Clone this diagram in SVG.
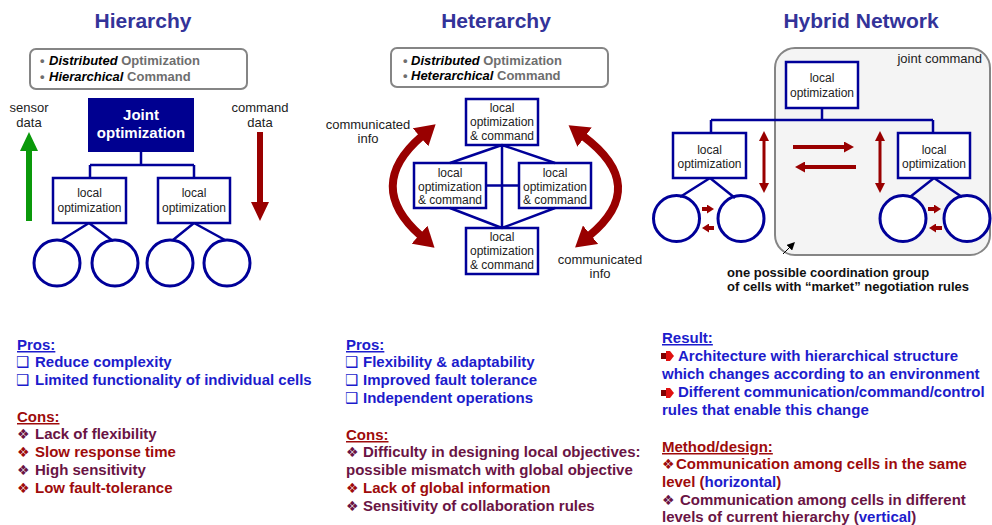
<svg xmlns="http://www.w3.org/2000/svg" width="992" height="525" viewBox="0 0 992 525">
<style>
text{font-family:"Liberation Sans",Arial,sans-serif}
.title{font-size:21px;font-weight:bold;fill:#333399;text-anchor:middle}
.info{font-size:13px;font-weight:bold;fill:#6e6e6e}
.em{fill:#000;font-style:italic}
.ibox{fill:#fff;stroke:#858585;stroke-width:2}
.node{fill:#fff;stroke:#000099;stroke-width:2.5}
.nt{font-size:12px;fill:#222;text-anchor:middle}
.lbl{font-size:13px;fill:#222;text-anchor:middle}
.cell{fill:#fff;stroke:#000099;stroke-width:3}
.conn{fill:none;stroke:#000099;stroke-width:2.5}
.big{fill:none;stroke:#990000;stroke-width:8;marker-start:url(#bh);marker-end:url(#bh)}
.ra{fill:none;stroke:#990000}
.bt{font-size:15px;font-weight:bold}
.blue{fill:#1c1ccc}
.red{fill:#9e0b0b}
.mar{fill:#6a1444}
.u{text-decoration:underline}
.sym{font-family:"DejaVu Sans",sans-serif;font-size:15px;font-weight:bold}
.dia{font-family:"DejaVu Sans",sans-serif;font-size:14px;font-weight:normal}
</style>
<defs>
<marker id="bh" markerUnits="userSpaceOnUse" viewBox="0 0 20 24" markerWidth="20" markerHeight="24" refX="2" refY="12" orient="auto-start-reverse"><path d="M0,0 L20,12 L0,24 z" fill="#990000"/></marker>
<marker id="mh" markerUnits="userSpaceOnUse" viewBox="0 0 10 11" markerWidth="10" markerHeight="11" refX="1" refY="5.5" orient="auto-start-reverse"><path d="M0,0 L10,5.5 L0,11 z" fill="#990000"/></marker>
<marker id="sh" markerUnits="userSpaceOnUse" viewBox="0 0 10 10" markerWidth="10" markerHeight="10" refX="1" refY="5" orient="auto-start-reverse"><path d="M0,0 L10,5 L0,10 z" fill="#990000"/></marker>
<marker id="th" markerUnits="userSpaceOnUse" viewBox="0 0 7 9" markerWidth="7" markerHeight="9" refX="1" refY="4.5" orient="auto"><path d="M0,0 L7,4.5 L0,9 z" fill="#990000"/></marker>
<marker id="kh" markerUnits="userSpaceOnUse" viewBox="0 0 8 8" markerWidth="8" markerHeight="8" refX="1" refY="4" orient="auto"><path d="M0,0 L8,4 L0,8 z" fill="#000"/></marker>
</defs>

<!-- ===== Hierarchy ===== -->
<g id="hier-title"><text class="title" x="143" y="28">Hierarchy</text></g>
<g id="hier-info">
<rect class="ibox" x="30" y="49" width="217" height="40" rx="6"/>
<text class="info" y="65"><tspan x="40">•</tspan><tspan x="49" class="em">Distributed</tspan> Optimization</text>
<text class="info" y="81"><tspan x="40">•</tspan><tspan x="49" class="em">Hierarchical</tspan> Command</text>
</g>
<g id="hier-sensor">
<text class="lbl" x="29" y="112">sensor</text><text class="lbl" x="29" y="127">data</text>
<polygon points="29,132 38,151 32,151 32,221 26,221 26,151 20,151" fill="#0a990a"/>
</g>
<g id="hier-command">
<text class="lbl" x="260" y="112">command</text><text class="lbl" x="260" y="127">data</text>
<polygon points="257,132 263,132 263,202 269,202 260,221 251,202 257,202" fill="#990000"/>
</g>
<g id="hier-joint">
<rect x="88" y="98" width="106" height="54" fill="#000090"/>
<text x="141" y="120" font-size="15" font-weight="bold" fill="#fff" text-anchor="middle">Joint</text>
<text x="141" y="138" font-size="15" font-weight="bold" fill="#fff" text-anchor="middle">optimization</text>
</g>
<g id="hier-local1"><rect class="node" x="53" y="178" width="73" height="45"/><text class="nt" x="89.5" y="197">local</text><text class="nt" x="89.5" y="212">optimization</text></g>
<g id="hier-local2"><rect class="node" x="158" y="178" width="72" height="45"/><text class="nt" x="194" y="197">local</text><text class="nt" x="194" y="212">optimization</text></g>
<g id="hier-cell1"><circle class="cell" cx="57" cy="263" r="23"/></g>
<g id="hier-cell2"><circle class="cell" cx="115" cy="263" r="23"/></g>
<g id="hier-cell3"><circle class="cell" cx="170" cy="263" r="23"/></g>
<g id="hier-cell4"><circle class="cell" cx="227" cy="263" r="23"/></g>

<!-- ===== Heterarchy ===== -->
<g id="het-title"><text class="title" x="496" y="28">Heterarchy</text></g>
<g id="het-info">
<rect class="ibox" x="391" y="48" width="217" height="39" rx="6"/>
<text class="info" y="65"><tspan x="403">•</tspan><tspan x="411" class="em">Distributed</tspan> Optimization</text>
<text class="info" y="80"><tspan x="403">•</tspan><tspan x="411" class="em">Heterarchical</tspan> Command</text>
</g>
<g id="het-top"><rect class="node" x="466" y="99" width="72" height="46"/><text class="nt" x="502" y="112">local</text><text class="nt" x="502" y="126">optimization</text><text class="nt" x="502" y="140">&amp; command</text></g>
<g id="het-left"><rect class="node" x="414" y="163" width="72" height="45"/><text class="nt" x="450" y="177">local</text><text class="nt" x="450" y="191">optimization</text><text class="nt" x="450" y="204">&amp; command</text></g>
<g id="het-right"><rect class="node" x="519" y="163" width="72" height="45"/><text class="nt" x="555" y="177">local</text><text class="nt" x="555" y="191">optimization</text><text class="nt" x="555" y="204">&amp; command</text></g>
<g id="het-bottom"><rect class="node" x="466" y="228" width="72" height="46"/><text class="nt" x="502" y="241">local</text><text class="nt" x="502" y="255">optimization</text><text class="nt" x="502" y="269">&amp; command</text></g>
<g id="het-label-left"><text class="lbl" x="368" y="129">communicated</text><text class="lbl" x="368" y="143">info</text></g>
<g id="het-label-right"><text class="lbl" x="600" y="264">communicated</text><text class="lbl" x="600" y="278">info</text></g>

<!-- ===== Hybrid Network ===== -->
<g id="hyb-title"><text class="title" x="861" y="28">Hybrid Network</text></g>
<g id="hyb-group">
<rect x="775" y="48" width="215" height="207" rx="20" fill="#f4f4f4" stroke="#858585" stroke-width="2"/>
<text x="982" y="63" font-size="13" fill="#222" text-anchor="end">joint command</text>
</g>
<g id="hyb-top"><rect class="node" x="786" y="62" width="72" height="46"/><text class="nt" x="822" y="82">local</text><text class="nt" x="822" y="97">optimization</text></g>
<g id="hyb-left"><rect class="node" x="673" y="133" width="73" height="45"/><text class="nt" x="709.5" y="154">local</text><text class="nt" x="709.5" y="168">optimization</text></g>
<g id="hyb-right"><rect class="node" x="898" y="133" width="72" height="45"/><text class="nt" x="934" y="154">local</text><text class="nt" x="934" y="168">optimization</text></g>
<g id="hyb-cell1"><circle class="cell" cx="676.5" cy="218.5" r="23"/></g>
<g id="hyb-cell2"><circle class="cell" cx="741" cy="218.5" r="23"/></g>
<g id="hyb-cell3"><circle class="cell" cx="903" cy="218.5" r="23"/></g>
<g id="hyb-cell4"><circle class="cell" cx="967" cy="218.5" r="23"/></g>
<g id="hyb-caption">
<text x="727" y="277" font-size="13" font-weight="bold" fill="#111">one possible coordination group</text>
<text x="727" y="291" font-size="13" font-weight="bold" fill="#111">of cells with “market” negotiation rules</text>
</g>

<!-- ===== Connectors ===== -->
<g id="connectors">
<path class="conn" d="M141,152 V165 M90,165 H194 M90,165 V178 M194,165 V178"/>
<path class="conn" d="M89,223 L60,241 M89,223 L113,241 M194,223 L173,240 M194,223 L225,240"/>
<path class="conn" d="M502,145 V228 M502,145 L450,163 M502,145 L555,163 M450,208 L502,228 M555,208 L502,228 M486,185.5 H519"/>
<path class="big" d="M422,136 Q364,186 421,236"/>
<path class="big" d="M583,136 Q650,186 589,236"/>
<path class="conn" d="M822,108 V120 M711,120 H933 M711,120 V133 M933,120 V133"/>
<path class="conn" d="M710,178 L680,197 M710,178 L735,198 M934,178 L910,197 M934,178 L962,197"/>
<path class="ra" stroke-width="3" d="M764,140 V184" marker-start="url(#sh)" marker-end="url(#sh)"/>
<path class="ra" stroke-width="3" d="M880,140 V184" marker-start="url(#sh)" marker-end="url(#sh)"/>
<path class="ra" stroke-width="4" d="M793,147 H845" marker-end="url(#mh)"/>
<path class="ra" stroke-width="4" d="M856,167 H804" marker-end="url(#mh)"/>
<path class="ra" stroke-width="4" d="M702,209 H708" marker-end="url(#th)"/>
<path class="ra" stroke-width="4" d="M714,228 H708" marker-end="url(#th)"/>
<path class="ra" stroke-width="4" d="M928,209 H935" marker-end="url(#th)"/>
<path class="ra" stroke-width="4" d="M942,228 H935" marker-end="url(#th)"/>
<path d="M783,254 L790,247" stroke="#000" stroke-width="1" fill="none" marker-end="url(#kh)"/>
</g>

<!-- ===== Text columns ===== -->
<g id="hier-proscons" class="bt">
<text class="blue u" x="17" y="350">Pros:</text>
<text class="blue" y="367"><tspan class="sym" x="16">❑</tspan><tspan x="35">Reduce complexity</tspan></text>
<text class="blue" y="385"><tspan class="sym" x="16">❑</tspan><tspan x="35">Limited functionality of individual cells</tspan></text>
<text class="red u" x="17" y="422">Cons:</text>
<text class="mar" y="439"><tspan class="dia" x="17">❖</tspan><tspan x="35">Lack of flexibility</tspan></text>
<text class="red" y="457"><tspan class="dia" x="17">❖</tspan><tspan x="35">Slow response time</tspan></text>
<text class="mar" y="475"><tspan class="dia" x="17">❖</tspan><tspan x="35">High sensitivity</tspan></text>
<text class="red" y="493"><tspan class="dia" x="17">❖</tspan><tspan x="35">Low fault-tolerance</tspan></text>
</g>
<g id="het-proscons" class="bt">
<text class="blue u" x="346" y="350">Pros:</text>
<text class="blue" y="367"><tspan class="sym" x="345">❑</tspan><tspan x="363">Flexibility &amp; adaptability</tspan></text>
<text class="blue" y="385"><tspan class="sym" x="345">❑</tspan><tspan x="363">Improved fault tolerance</tspan></text>
<text class="blue" y="403"><tspan class="sym" x="345">❑</tspan><tspan x="363">Independent operations</tspan></text>
<text class="red u" x="346" y="440">Cons:</text>
<text class="mar" y="457"><tspan class="dia" x="346">❖</tspan><tspan x="363">Difficulty in designing local objectives:</tspan></text>
<text class="mar" x="346" y="475">possible mismatch with global objective</text>
<text class="red" y="493"><tspan class="dia" x="346">❖</tspan><tspan x="363">Lack of global information</tspan></text>
<text class="mar" y="511"><tspan class="dia" x="346">❖</tspan><tspan x="363">Sensitivity of collaboration rules</tspan></text>
</g>
<g id="hyb-result" class="bt">
<text class="blue u" x="662" y="343">Result:</text>
<rect x="661" y="353" width="7" height="6" fill="#800000"/><polygon points="666,351 670,351 674,356 670,361 666,361" fill="#e01010"/>
<text class="blue" x="678" y="361">Architecture with hierarchical structure</text>
<text class="blue" x="662" y="379">which changes according to an environment</text>
<rect x="661" y="390" width="7" height="6" fill="#800000"/><polygon points="666,388 670,388 674,393 670,398 666,398" fill="#e01010"/>
<text class="blue" x="678" y="397">Different communication/command/control</text>
<text class="blue" x="662" y="415">rules that enable this change</text>
<text class="red u" x="662" y="452">Method/design:</text>
<text class="red" y="469"><tspan class="dia" x="662">❖</tspan><tspan x="676">Communication among cells in the same</tspan></text>
<text class="red" x="662" y="487">level (<tspan class="blue">horizontal</tspan>)</text>
<text class="mar" y="505"><tspan class="dia" x="662">❖</tspan><tspan x="680">Communication among cells in different</tspan></text>
<text class="mar" x="662" y="522">levels of current hierarchy (<tspan class="blue">vertical</tspan>)</text>
</g>
</svg>
